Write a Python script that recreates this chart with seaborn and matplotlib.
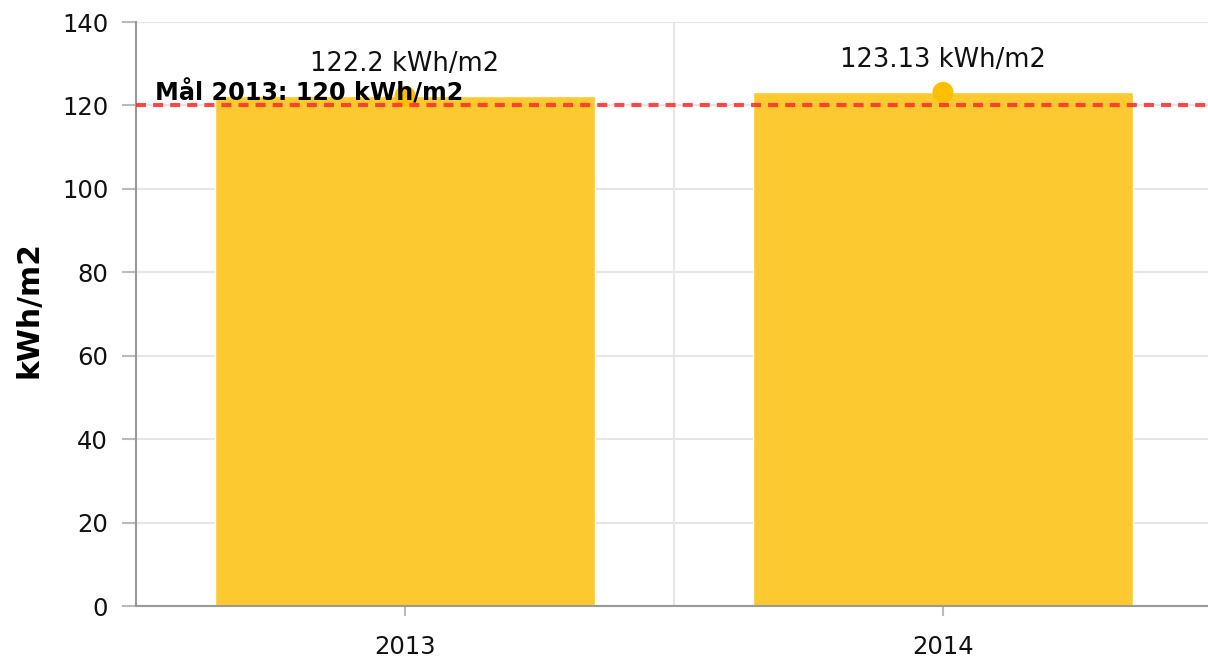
import matplotlib
matplotlib.use("Agg")
import matplotlib.pyplot as plt
import matplotlib.transforms as mtransforms
import seaborn as sns
import pandas as pd

years = ["2013", "2014"]
values = [122.2, 123.13]
value_labels = ["122.2 kWh/m2", "123.13 kWh/m2"]
target_value = 120
target_label = "Mål 2013: 120 kWh/m2"
y_ticks = [0, 20, 40, 60, 80, 100, 120, 140]
y_title = "kWh/m2"

sns.set_theme(style="white")
plt.rcParams['font.family'] = ['DejaVu Sans']

df = pd.DataFrame({"year": years, "value": values})

fig = plt.figure(figsize=(12.08, 6.61), dpi=100)
ax = fig.add_axes([0.1126, 0.0832, 0.8907, 0.8835])

sns.barplot(data=df, x="year", y="value", color="#FDC931", saturation=1,
            width=0.705, ax=ax, zorder=2)
sns.scatterplot(data=df, x="year", y="value", color="#FFBF00", s=230,
                edgecolor="none", ax=ax, zorder=3, legend=False)

for i, (v, lab) in enumerate(zip(values, value_labels)):
    ax.annotate(lab, xy=(i, v), xytext=(0, 23), textcoords="offset points",
                ha="center", va="center", fontsize=18.5, color="#111111", zorder=5)

ax.axhline(target_value, color="#FF2A2A", alpha=0.85, linewidth=3,
           linestyle=(0, (2.4, 1.7)), zorder=4)
trans = mtransforms.blended_transform_factory(ax.transAxes, ax.transData)
ax.text(0.0177, target_value + 1.2, target_label, transform=trans,
        fontsize=17.2, fontweight="bold", color="black", ha="left",
        va="baseline", zorder=6)

ax.set_xlim(-0.5, 1.5)
ax.set_ylim(0, 140)
ax.set_yticks(y_ticks)
ax.set_xlabel("")
ax.set_ylabel(y_title, fontsize=21.5, fontweight="bold", color="black")
ax.yaxis.set_label_coords(-0.0864, 0.508)

ax.set_xticks([0.5], minor=True)
ax.grid(axis="y", which="major", color="#e6e6e6", linewidth=1.5, zorder=0)
ax.grid(axis="x", which="minor", color="#e6e6e6", linewidth=1.5, zorder=0)
ax.set_axisbelow(True)

for s in ["top", "right"]:
    ax.spines[s].set_visible(False)
for s in ["left", "bottom"]:
    ax.spines[s].set_color("#999999")
    ax.spines[s].set_linewidth(1.5)

ax.tick_params(axis="y", which="major", left=True, length=10, width=1.5,
               color="#bbbbbb", labelsize=17.5, pad=10, labelcolor="#111111")
ax.tick_params(axis="x", which="major", bottom=True, length=7, width=1.5,
               color="#bbbbbb", labelsize=17.5, pad=14, labelcolor="#111111")
ax.tick_params(axis="x", which="minor", bottom=False, length=0)

fig.savefig("out.png", dpi=100)
